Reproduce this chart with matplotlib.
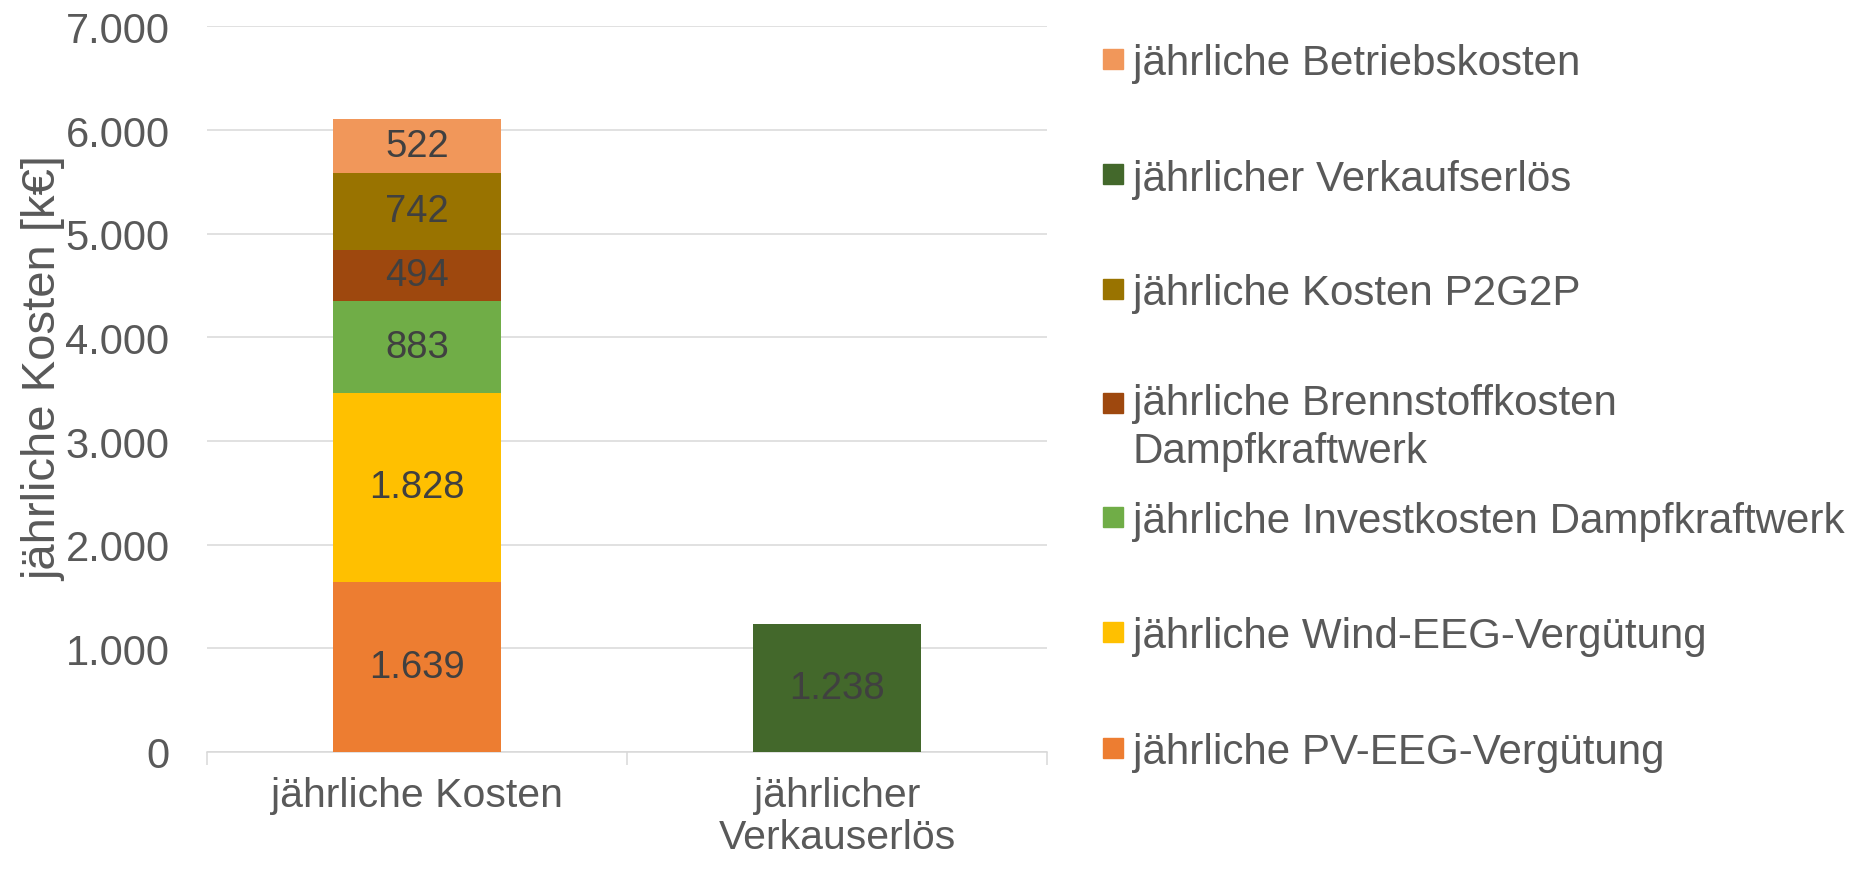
import matplotlib.pyplot as plt
from matplotlib.patches import Rectangle
from matplotlib.ticker import FuncFormatter, FixedLocator

plt.rcParams['font.family'] = ['Liberation Sans', 'DejaVu Sans']

# categories on the x axis
categories = ["jährliche Kosten", "jährlicher\nVerkauserlös"]

# stacked series (bottom to top), values in k€ per category
series_names = ["jährliche PV-EEG-Vergütung",
                "jährliche Wind-EEG-Vergütung",
                "jährliche Investkosten Dampfkraftwerk",
                "jährliche Brennstoffkosten\nDampfkraftwerk",
                "jährliche Kosten P2G2P",
                "jährlicher Verkaufserlös",
                "jährliche Betriebskosten"]
series_values = [[1639, 0],
                 [1828, 0],
                 [883, 0],
                 [494, 0],
                 [742, 0],
                 [0, 1238],
                 [522, 0]]
series_colors = ["#ED7D31", "#FFC000", "#70AD47", "#9E480E",
                 "#997300", "#43682B", "#F1975A"]

y_ticks = [0, 1000, 2000, 3000, 4000, 5000, 6000, 7000]

def de_num(v, pos=None):
    # german thousands separator
    return f"{int(v):,}".replace(",", ".")

fig = plt.figure(figsize=(18.72, 8.7), dpi=100)
ax = fig.add_axes([0.1106, 0.1345, 0.4487, 0.834])

x = list(range(len(categories)))
bottoms = [0] * len(categories)
for name, vals, col in zip(series_names, series_values, series_colors):
    bars = ax.bar(x, vals, width=0.4, bottom=bottoms, color=col, zorder=3)
    for b, v, bot in zip(bars, vals, bottoms):
        if v > 0:
            ax.text(b.get_x() + b.get_width() / 2, bot + v / 2, de_num(v),
                    ha='center', va='center', fontsize=27.5, color='#404040', zorder=4)
    bottoms = [a + b for a, b in zip(bottoms, vals)]

ax.set_xlim(-0.5, 1.5)
ax.set_ylim(0, 7000)
ax.set_yticks(y_ticks)
ax.yaxis.set_major_formatter(FuncFormatter(de_num))
ax.set_xticks(x)
ax.set_xticklabels(categories, linespacing=1.15)
ax.xaxis.set_minor_locator(FixedLocator([-0.5, 0.5, 1.5]))

ax.tick_params(axis='y', length=0, pad=27, labelsize=30, labelcolor='#595959')
ax.tick_params(axis='x', which='major', length=0, pad=17, labelsize=29.5, labelcolor='#595959')
ax.tick_params(axis='x', which='minor', length=9, width=1.1, color='#D9D9D9')

ax.grid(axis='y', color='#D9D9D9', linewidth=1.1, zorder=0)
for s in ['top', 'right', 'left']:
    ax.spines[s].set_visible(False)
ax.spines['bottom'].set_color('#D9D9D9')
ax.spines['bottom'].set_linewidth(1.1)
ax.spines['bottom'].set_zorder(2)

ax.set_ylabel("jährliche Kosten [k€]", fontsize=34, color='#595959')
ax.yaxis.set_label_coords(-0.168, 0.53)

# legend drawn by hand to get the Excel layout (top entry first)
W, H = 1872, 870
legend_y = [60, 175, 290, 404, 518, 633, 749]
for i, (name, col) in enumerate(zip(series_names[::-1], series_colors[::-1])):
    yc = legend_y[i]
    fig.add_artist(Rectangle((1103 / W, 1 - (yc + 10) / H), 20 / W, 20 / H,
                             transform=fig.transFigure, color=col))
    if "\n" in name:
        # patch sits on the first line, text block centred on both lines
        fig.text(1133 / W, 1 - (yc + 24) / H, name, ha='left', va='center',
                 fontsize=30.3, color='#595959', linespacing=1.28)
    else:
        fig.text(1133 / W, 1 - yc / H, name, ha='left', va='center_baseline',
                 fontsize=30.3, color='#595959')

fig.savefig("out.png", dpi=100)
